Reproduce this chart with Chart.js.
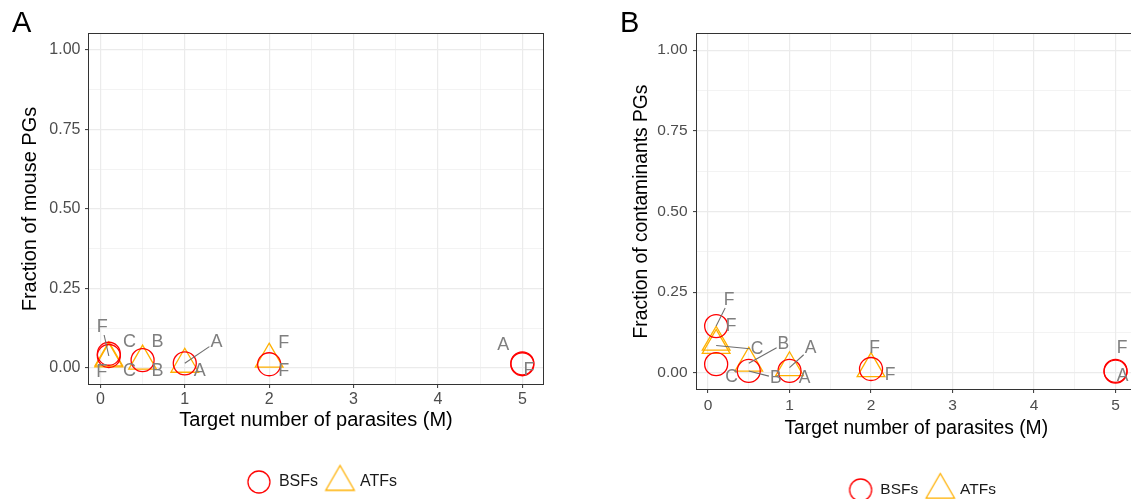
<!DOCTYPE html>
<html>
<head>
<meta charset="utf-8">
<script src="https://cdn.jsdelivr.net/npm/chart.js@4.4.1/dist/chart.umd.min.js"></script>
<style>
html, body { margin: 0; padding: 0; background: #ffffff; overflow: hidden; width: 1131px; height: 499px; }
#wrapA { position: absolute; left: 0; top: 0; width: 600px; height: 520px; }
#wrapB { position: absolute; left: 600px; top: 0; width: 560px; height: 520px; }
canvas { display: block; }
</style>
</head>
<body>
<div id="wrapA"><canvas id="chartA" width="600" height="520"></canvas></div>
<div id="wrapB"><canvas id="chartB" width="560" height="520"></canvas></div>
<script>
// ---------------- DATA ----------------
const seriesNames = ['BSFs', 'ATFs'];
const xTicks = [0, 0.5, 1, 1.5, 2, 2.5, 3, 3.5, 4, 4.5, 5];
const yTicks = [0, 0.125, 0.25, 0.375, 0.5, 0.625, 0.75, 0.875, 1];
const xTitle = 'Target number of parasites (M)';

// Panel A: fraction of mouse PGs
const mouseBSF_x = [0.1, 0.1, 0.5, 1, 2, 5, 5];
const mouseBSF_y = [0.045, 0.038, 0.025, 0.015, 0.012, 0.015, 0.012];
const mouseBSF_sample = ['C', 'F', 'B', 'A', 'F', 'A', 'F'];
const mouseATF_x = [0.1, 0.1, 0.5, 1, 2];
const mouseATF_y = [0.032, 0.029, 0.022, 0.012, 0.028];
const mouseATF_sample = ['C', 'F', 'B', 'A', 'F'];

// Panel B: fraction of contaminants PGs
const contBSF_x = [0.1, 0.1, 0.5, 1, 2, 5, 5];
const contBSF_y = [0.145, 0.027, 0.006, 0.006, 0.012, 0.006, 0.004];
const contBSF_sample = ['F', 'C', 'B', 'A', 'F', 'F', 'A'];
const contATF_x = [0.1, 0.1, 0.5, 1, 2];
const contATF_y = [0.095, 0.085, 0.03, 0.016, 0.013];
const contATF_sample = ['F', 'C', 'B', 'A', 'F'];

// ---------------- LABEL LAYOUT (pixel nudges: dx, dy, draw segment) ----------------
const mouseBSF_nudge = [[20.6, -12, 0], [-6.5, -29, 1], [15, 11, 0], [31.6, -21.5, 1], [14.6, 6.5, 0], [-19, -18, 0], [6.6, 6, 0]];
const mouseATF_nudge = [[20.6, 13.5, 0], [-7, 13, 0], [15, -18.6, 0], [15, 7, 0], [14.6, -16, 0]];
const contBSF_nudge = [[13, -26, 1], [15.5, 13.3, 0], [27, 7, 1], [15, 7, 0], [19, 6.5, 0], [6.5, -22.5, 0], [7, 4.5, 0]];
const contATF_nudge = [[15, -15.7, 0], [41, 4, 1], [34.7, -19.2, 1], [21, -19.2, 1], [3.5, -20.2, 0]];

// ---------------- STYLE ----------------
const FONT = '"Liberation Sans", Arial, Helvetica, sans-serif';
const RED = '#FF0000';
const ORANGE = '#FFB000';
const GRID = '#EBEBEB';
const DARK = '#333333';
const LABEL_GRAY = '#7F7F7F';
Chart.defaults.font.family = FONT;

function makeIcon(shape, r, color) {
  const s = Math.ceil(2 * r + 4);
  const c = document.createElement('canvas');
  c.width = s; c.height = s;
  const g = c.getContext('2d');
  g.strokeStyle = color; g.lineWidth = 1.3;
  const cx = s / 2, cy = s / 2;
  g.beginPath();
  if (shape === 'circle') {
    g.arc(cx, cy, r, 0, Math.PI * 2);
  } else {
    for (let k = 0; k < 3; k++) {
      const a = k * 2 * Math.PI / 3;
      const px = cx + r * Math.sin(a), py = cy - r * Math.cos(a);
      if (k === 0) g.moveTo(px, py); else g.lineTo(px, py);
    }
    g.closePath();
  }
  g.stroke();
  return c;
}
const iconCircle = makeIcon('circle', 11, RED);
const iconTri = makeIcon('triangle', 16.5, ORANGE);

const repelLabels = {
  id: 'repelLabels',
  afterDatasetsDraw(chart, args, opts) {
    const ctx = chart.ctx;
    ctx.save();
    ctx.font = opts.size + 'px ' + FONT;
    ctx.textAlign = 'center';
    ctx.textBaseline = 'middle';
    chart.data.datasets.forEach((ds, di) => {
      const meta = chart.getDatasetMeta(di);
      ds.sampleLabels.forEach((txt, i) => {
        const pt = meta.data[i];
        const nd = ds.labelNudge[i];
        const lx = pt.x + nd[0], ly = pt.y + nd[1];
        if (nd[2]) {
          const hw = ctx.measureText(txt).width / 2 + 1, hh = 8;
          const dx = pt.x - lx, dy = pt.y - ly;
          const tx = dx ? Math.abs(hw / dx) : Infinity;
          const ty = dy ? Math.abs(hh / dy) : Infinity;
          const t = Math.min(tx, ty);
          ctx.strokeStyle = '#6E6E6E';
          ctx.lineWidth = 1.1;
          ctx.beginPath();
          ctx.moveTo(pt.x, pt.y);
          ctx.lineTo(lx + dx * t, ly + dy * t);
          ctx.stroke();
        }
        ctx.fillStyle = LABEL_GRAY;
        ctx.fillText(txt, lx, ly);
      });
    });
    ctx.restore();
  }
};

const panelBorder = {
  id: 'panelBorder',
  afterDraw(chart) {
    const a = chart.chartArea, ctx = chart.ctx;
    ctx.save();
    ctx.strokeStyle = DARK;
    ctx.lineWidth = 1;
    ctx.strokeRect(Math.round(a.left) - 0.5, Math.round(a.top) - 0.5, Math.round(a.right - a.left) + 1, Math.round(a.bottom - a.top) + 1);
    ctx.restore();
  }
};

const legendShift = {
  id: 'legendShift',
  afterLayout(chart, args, opts) {
    const lg = chart.legend;
    if (lg && opts && opts.dx) { lg.left += opts.dx; lg.right += opts.dx; }
  }
};

const isMajorX = v => Math.abs(v - Math.round(v)) < 1e-9;
const isMajorY = v => Math.abs(v * 4 - Math.round(v * 4)) < 1e-9;

function buildPanel(id, p) {
  const datasets = [
    {
      label: seriesNames[0],
      data: p.bsfX.map((x, i) => ({ x: x, y: p.bsfY[i] })),
      sampleLabels: p.bsfS, labelNudge: p.bsfN,
      pointStyle: 'circle', pointRadius: 11.5, pointHoverRadius: 11.5,
      borderColor: RED, backgroundColor: 'rgba(0,0,0,0)',
      pointBorderColor: RED, pointBackgroundColor: 'rgba(0,0,0,0)',
      pointBorderWidth: 1.3, pointHoverBorderWidth: 1.3
    },
    {
      label: seriesNames[1],
      data: p.atfX.map((x, i) => ({ x: x, y: p.atfY[i] })),
      sampleLabels: p.atfS, labelNudge: p.atfN,
      pointStyle: 'triangle', pointRadius: 16, pointHoverRadius: 16,
      borderColor: ORANGE, backgroundColor: 'rgba(0,0,0,0)',
      pointBorderColor: ORANGE, pointBackgroundColor: 'rgba(0,0,0,0)',
      pointBorderWidth: 1.3, pointHoverBorderWidth: 1.3
    }
  ];
  return new Chart(document.getElementById(id), {
    type: 'scatter',
    data: { datasets: datasets },
    plugins: [repelLabels, panelBorder, legendShift],
    options: {
      responsive: false,
      animation: false,
      devicePixelRatio: 1,
      events: [],
      layout: { padding: { left: p.padL, right: p.padR, top: 0, bottom: p.padB } },
      plugins: {
        title: {
          display: true, text: p.tag, align: 'start', color: '#000000',
          font: { size: 29, weight: 'normal', lineHeight: 0.6 },
          padding: { top: 14.8, bottom: 1.8 }
        },
        legend: {
          display: true, position: 'bottom', fullSize: false,
          labels: {
            usePointStyle: true, pointStyleWidth: 24, color: '#1A1A1A',
            font: { size: p.legendFont }, padding: 10,
            generateLabels(chart) {
              const items = Chart.defaults.plugins.legend.labels.generateLabels(chart);
              items[0].pointStyle = iconCircle;
              items[1].pointStyle = iconTri;
              return items;
            }
          }
        },
        tooltip: { enabled: false },
        repelLabels: { size: p.labelFont },
        legendShift: { dx: 6 }
      },
      scales: {
        x: {
          type: 'linear', position: 'bottom', min: -0.135, max: 5.245,
          afterBuildTicks: s => { s.ticks = xTicks.map(v => ({ value: v })); },
          afterFit: s => { s.height = p.xAxisH; },
          ticks: {
            autoSkip: false, maxRotation: 0, minRotation: 0, color: '#4D4D4D',
            font: { size: p.tickFont }, padding: p.xTickPad,
            callback: v => isMajorX(v) ? String(Math.round(v)) : ''
          },
          grid: {
            color: c => GRID,
            lineWidth: c => (c.tick && isMajorX(c.tick.value)) ? 1.2 : 0.6,
            tickLength: 4,
            tickColor: c => (c.tick && isMajorX(c.tick.value)) ? DARK : 'rgba(0,0,0,0)',
            tickWidth: 1
          },
          border: { display: false },
          title: {
            display: true, text: xTitle, color: '#000000',
            font: { size: p.titleFont }, padding: { top: 0, bottom: p.xTitlePadB }
          }
        },
        y: {
          type: 'linear', position: 'left', min: -0.05, max: 1.05,
          afterBuildTicks: s => { s.ticks = yTicks.map(v => ({ value: v })); },
          afterFit: s => { s.width = p.yAxisW; },
          ticks: {
            autoSkip: false, color: '#4D4D4D',
            font: { size: p.tickFont }, padding: p.yTickPad,
            callback: v => isMajorY(v) ? v.toFixed(2) : ''
          },
          grid: {
            color: c => GRID,
            lineWidth: c => (c.tick && isMajorY(c.tick.value)) ? 1.2 : 0.6,
            tickLength: 4,
            tickColor: c => (c.tick && isMajorY(c.tick.value)) ? DARK : 'rgba(0,0,0,0)',
            tickWidth: 1
          },
          border: { display: false },
          title: {
            display: true, text: p.yTitle, color: '#000000',
            font: { size: p.titleFont }, padding: { top: p.yTitlePadT, bottom: 0 }
          }
        }
      }
    }
  });
}

buildPanel('chartA', {
  tag: 'A', yTitle: 'Fraction of mouse PGs',
  bsfX: mouseBSF_x, bsfY: mouseBSF_y, bsfS: mouseBSF_sample, bsfN: mouseBSF_nudge,
  atfX: mouseATF_x, atfY: mouseATF_y, atfS: mouseATF_sample, atfN: mouseATF_nudge,
  padL: 12, padR: 57, padB: 20, xAxisH: 80, yAxisW: 77,
  tickFont: 16, titleFont: 20, legendFont: 16, labelFont: 18,
  xTickPad: 2, yTickPad: 4.5, xTitlePadB: 31.5, yTitlePadT: 6
});

buildPanel('chartB', {
  tag: 'B', yTitle: 'Fraction of contaminants PGs',
  bsfX: contBSF_x, bsfY: contBSF_y, bsfS: contBSF_sample, bsfN: contBSF_nudge,
  atfX: contATF_x, atfY: contATF_y, atfS: contATF_sample, atfN: contATF_nudge,
  padL: 20, padR: 24.5, padB: 12.25, xAxisH: 83.25, yAxisW: 77,
  tickFont: 15.5, titleFont: 19.3, legendFont: 15.5, labelFont: 17.5,
  xTickPad: 3, yTickPad: 5.5, xTitlePadB: 32, yTitlePadT: 10.4
});
</script>
</body>
</html>
